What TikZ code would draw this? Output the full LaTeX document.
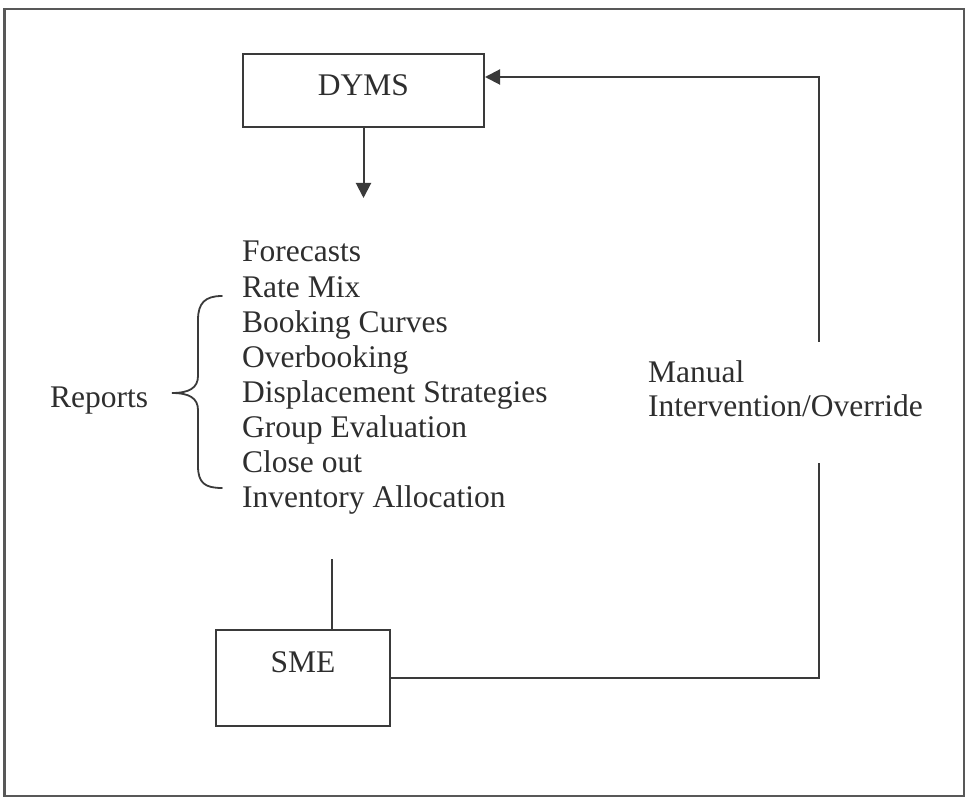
\documentclass[tikz,border=0pt]{standalone}
\usepackage{fontspec}
\setmainfont{Liberation Serif}
\usetikzlibrary{arrows.meta}
\definecolor{ink}{HTML}{2E2E2E}
\definecolor{rule}{HTML}{3A3A3A}
\begin{document}
\begin{tikzpicture}[x=1pt,y=-1pt,
  every node/.style={text=ink,font=\fontsize{31.5}{35.1}\selectfont,inner sep=0pt},
  box/.style={draw=rule,line width=2pt,rectangle},
  wire/.style={draw=rule,line width=2pt},
  arrowwire/.style={wire,-{Triangle[length=15pt,width=15pt]}},
  item/.style={anchor=base west}]
  \useasboundingbox (0,0) rectangle (967,802);
  % outer frame
  \draw[draw=rule!85!white,line width=2.2pt] (4.5,9) rectangle (964,796);

  % system boxes
  \node[box,minimum width=241pt,minimum height=73pt,text height=21pt,text depth=10pt]
    (dyms) at (363.5,90.5) {DYMS};
  \node[box,minimum width=174pt,minimum height=96pt,text height=21pt,text depth=33pt]
    (sme) at (303,678) {SME};

  % report list
  \foreach \t [count=\i] in {Forecasts,Rate Mix,Booking Curves,Overbooking,
      Displacement Strategies,Group Evaluation,Close out,Inventory Allocation}
    \node[item] (item\i) at (242,{262+35.1*(\i-1)}) {\t};

  \node[item] (reports) at (50,407) {Reports};
  \node[item] (manual) at (648,382) {Manual};
  \node[item] (override) at (648,417) {Intervention/Override};

  % brace grouping the reports
  \draw[wire,line width=1.8pt,line cap=round] (222,296) .. controls (205,296) and (198,303) .. (198,320)
    -- (198,376) .. controls (198,388) and (189,393) .. (172,393)
    .. controls (189,393) and (198,398) .. (198,410)
    -- (198,466) .. controls (198,483) and (205,488) .. (222,488);

  % connectors
  \coordinate (dymsout) at (363.5,198);
  \draw[arrowwire] (dyms.south) -- (dymsout);

  \coordinate (listend) at (332,559);
  \draw[wire] (listend) -- (listend |- sme.north);

  \coordinate (loopcorner) at (819,678);
  \coordinate (gaplow) at (819,463);
  \coordinate (gaphigh) at (819,342);
  \coordinate (looptop) at (819,77);
  \coordinate (dymsin) at (dyms.east |- looptop);
  \draw[wire] (sme.east) -- (loopcorner) -- (gaplow);
  \draw[arrowwire] (gaphigh) -- (looptop) -- (dymsin);
\end{tikzpicture}
\end{document}
